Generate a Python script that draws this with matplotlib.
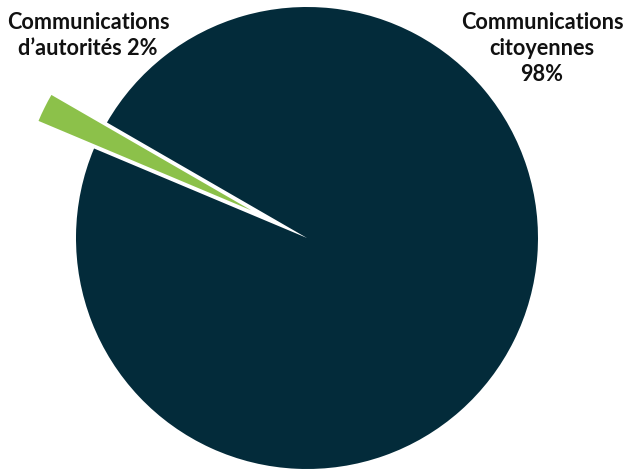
import matplotlib.pyplot as plt

# Données
categories = ["Communications citoyennes", "Communications d’autorités"]
valeurs = [98, 2]
couleurs = ["#032b3a", "#8cc14a"]
etiquettes = ["Communications\ncitoyennes\n98%", "Communications\nd’autorités 2%"]

W, H = 627, 471
fig = plt.figure(figsize=(W / 100, H / 100), dpi=100)
ax = fig.add_axes([0, 0, 1, 1])

# explode est en unités de données (rayon = 231)
ax.pie(valeurs, colors=couleurs, startangle=157.2, counterclock=True,
       explode=[0, 62], center=(307, H - 238), radius=231,
       wedgeprops=dict(linewidth=0))

ax.set_xlim(0, W)
ax.set_ylim(0, H)
ax.set_aspect("equal")
ax.axis("off")

# étiquettes
police = dict(ha="center", va="top", fontsize=15.6, fontweight="bold",
              family=["Lato", "DejaVu Sans"], linespacing=1.3, color="#111111")
ax.text(542, H - 12, etiquettes[0], **police)
ax.text(88, H - 12, etiquettes[1], **police)

fig.savefig("out.png", dpi=100)
